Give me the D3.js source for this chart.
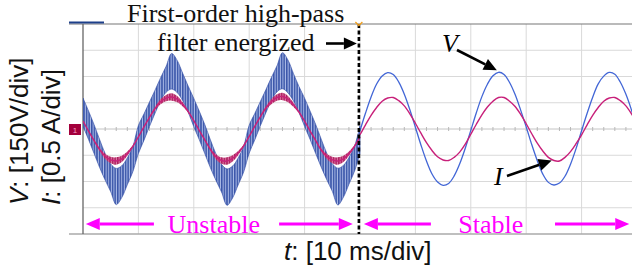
<!DOCTYPE html>
<html><head><meta charset="utf-8">
<script src="https://cdn.jsdelivr.net/npm/d3@7"></script>
<style>body{margin:0;background:#fff}svg{display:block}</style>
</head><body>
<svg id="chart" width="632" height="271"></svg>
<script>
// time in ms, V in volts, I in amps
let tUnstable=d3.range(0,51)
let tStable=d3.range(50,101)

// unstable V: upper / lower edge of the ripple band
let vHi=[177,103,25,-60,-140,-200,-225,-210,-165,-100,
20,86,154,222,292,358,432,392,318,244,
175,101,24,-62,-142,-202,-228,-212,-166,-98,
22,88,156,224,294,360,436,394,316,242,
176,102,26,-58,-138,-198,-224,-208,-163,-99,18]
let vLo=[15,-60,-140,-220,-292,-358,-432,-392,-318,-244,
-140,-65,15,90,160,210,228,208,162,95,
13,-62,-142,-222,-294,-360,-436,-394,-320,-246,
-138,-63,17,92,162,212,230,206,160,93,
15,-60,-140,-218,-290,-356,-434,-390,-316,-242,-140]

// unstable I and its ripple half-width
let iUnst=[.15,-.04,-.22,-.39,-.52,-.59,-.61,-.57,-.47,-.33,-.15,.04,.22,.39,.52,.59,.61,.57,.47,.33,
.16,-.03,-.21,-.39,-.53,-.60,-.61,-.56,-.46,-.32,-.14,.05,.23,.40,.52,.60,.62,.57,.46,.32,
.15,-.04,-.22,-.40,-.52,-.59,-.61,-.57,-.47,-.33,-.15]
let iRip=[.01,.01,.02,.03,.05,.06,.07,.06,.04,.02,.01,.01,.02,.03,.05,.06,.07,.06,.04,.02,
.01,.01,.02,.03,.05,.06,.07,.06,.04,.02,.01,.01,.02,.03,.05,.06,.07,.06,.04,.02,
.01,.01,.02,.03,.05,.06,.07,.06,.04,.02,.01]

// stable V and I
let vStable=[-10,91,183,257,303,322,311,268,199,110,10,-91,-183,-257,-303,-322,-311,-268,-199,-110,
-8,93,185,256,304,324,312,266,197,108,12,-89,-181,-258,-305,-320,-309,-270,-201,-112,
-10,90,182,258,302,323,313,267,198,109,9]
let iStable=[-.11,.08,.26,.41,.53,.59,.60,.54,.44,.29,.11,-.08,-.26,-.41,-.53,-.59,-.60,-.54,-.44,-.29,
-.10,.09,.27,.42,.53,.60,.60,.53,.43,.28,.10,-.09,-.27,-.42,-.54,-.60,-.61,-.54,-.43,-.28,
-.11,.08,.26,.41,.53,.59,.60,.54,.44,.29,.11]

let xGrid=[10,20,30,40,50,60,70,80,90]
let yGrid=[-450,-300,-150,150,300,450]
let minorTicks=d3.range(2,100,2)
let switchT=49.8

let svg=d3.select("#chart")
let pL=83,pR=632,pT=24,pB=234

let x=d3.scaleLinear().domain([0,100]).range([pL,pL+554])
let yV=d3.scaleLinear().domain([-600,600]).range([pB,pT])
let yI=d3.scaleLinear().domain([-2,2]).range([pB,pT])

let defs=svg.append("defs")
defs.append("clipPath").attr("id","plot").append("rect")
.attr("x",pL).attr("y",pT).attr("width",pR-pL).attr("height",pB-pT)

let pv=defs.append("pattern").attr("id","vrip").attr("patternUnits","userSpaceOnUse")
.attr("width",2.6).attr("height",4)
pv.append("rect").attr("width",2.6).attr("height",4).attr("fill","#aebde8")
pv.append("line").attr("x1",.8).attr("x2",.8).attr("y1",0).attr("y2",4)
.attr("stroke","#22409c").attr("stroke-width",1.3)

let pi=defs.append("pattern").attr("id","irip").attr("patternUnits","userSpaceOnUse")
.attr("width",2.6).attr("height",4)
pi.append("rect").attr("width",2.6).attr("height",4).attr("fill","#dc7aa8")
pi.append("line").attr("x1",.8).attr("x2",.8).attr("y1",0).attr("y2",4)
.attr("stroke","#a3104f").attr("stroke-width",1.3)

// grid
let grid=svg.append("g")
xGrid.forEach(t=>{
grid.append("line").attr("x1",x(t)).attr("x2",x(t)).attr("y1",pT).attr("y2",pB)
.attr("stroke","#d9d9d9").attr("stroke-width",1)
})
yGrid.forEach(v=>{
grid.append("line").attr("x1",pL).attr("x2",pR).attr("y1",yV(v)).attr("y2",yV(v))
.attr("stroke","#d9d9d9").attr("stroke-width",1)
})
grid.append("line").attr("x1",pL).attr("x2",pR).attr("y1",yV(0)).attr("y2",yV(0))
.attr("stroke","#c4c4c4").attr("stroke-width",1)
minorTicks.forEach(t=>{
grid.append("line").attr("x1",x(t)).attr("x2",x(t)).attr("y1",yV(0)-2).attr("y2",yV(0)+2)
.attr("stroke","#b8b8b8").attr("stroke-width",1)
})
grid.append("line").attr("x1",69).attr("x2",pR).attr("y1",pT).attr("y2",pT)
.attr("stroke","#777").attr("stroke-width",1.2)
grid.append("line").attr("x1",69).attr("x2",pR).attr("y1",pB).attr("y2",pB)
.attr("stroke","#aaa").attr("stroke-width",1.5)
grid.append("line").attr("x1",pL).attr("x2",pL).attr("y1",pT).attr("y2",pB)
.attr("stroke","#666").attr("stroke-width",1.3)

// legend stub + channel marker
svg.append("line").attr("x1",69).attr("x2",104).attr("y1",22.5).attr("y2",22.5)
.attr("stroke","#1d3f8a").attr("stroke-width",1.8)
svg.append("rect").attr("x",69).attr("y",yV(0)-5).attr("width",12).attr("height",11)
.attr("fill","#a3003c")
svg.append("text").attr("x",75).attr("y",yV(0)+4).attr("text-anchor","middle")
.attr("font-family","Liberation Sans, Arial").attr("font-size",8).attr("fill","#f3a0c0").text("1")

// traces
let wave=svg.append("g").attr("clip-path","url(#plot)")
let cr=d3.curveCatmullRom

wave.append("path").datum(tUnstable)
.attr("d",d3.area().x(t=>x(t)).y0((t,i)=>yV(vLo[i])).y1((t,i)=>yV(vHi[i])).curve(cr))
.attr("fill","url(#vrip)").attr("stroke","#2a47a3").attr("stroke-width",.6)

wave.append("path").datum(tUnstable)
.attr("d",d3.area().x(t=>x(t)).y0((t,i)=>yI(iUnst[i]-iRip[i])).y1((t,i)=>yI(iUnst[i]+iRip[i])).curve(cr))
.attr("fill","url(#irip)").attr("stroke","none")
wave.append("path").datum(tUnstable)
.attr("d",d3.line().x(t=>x(t)).y((t,i)=>yI(iUnst[i])).curve(cr))
.attr("fill","none").attr("stroke","#c8207a").attr("stroke-width",1.4)

wave.append("path").datum(tStable)
.attr("d",d3.line().x(t=>x(t)).y((t,i)=>yV(vStable[i])).curve(cr))
.attr("fill","none").attr("stroke","#4266d6").attr("stroke-width",1.3)
wave.append("path").datum(tStable)
.attr("d",d3.line().x(t=>x(t)).y((t,i)=>yI(iStable[i])).curve(cr))
.attr("fill","none").attr("stroke","#c8207a").attr("stroke-width",1.4)

// switching instant
svg.append("line").attr("x1",x(switchT)).attr("x2",x(switchT)).attr("y1",pT).attr("y2",pB)
.attr("stroke","#000").attr("stroke-width",2.6).attr("stroke-dasharray","4 2.5")
svg.append("path").attr("d",`M${x(switchT)-3.5},${pT-2}L${x(switchT)},${pT+1.5}L${x(switchT)+3.5},${pT-2}`)
.attr("fill","none").attr("stroke","#f0a020").attr("stroke-width",1.3)

function arrow(x1,y1,x2,y2,color,w,hl,hw){
let a=Math.atan2(y2-y1,x2-x1)
let bx=x2-hl*Math.cos(a),by=y2-hl*Math.sin(a)
let px=-Math.sin(a)*hw,py=Math.cos(a)*hw
svg.append("line").attr("x1",x1).attr("y1",y1).attr("x2",bx).attr("y2",by)
.attr("stroke",color).attr("stroke-width",w)
svg.append("polygon").attr("points",`${x2},${y2} ${bx+px},${by+py} ${bx-px},${by-py}`)
.attr("fill",color)
}

let serif="Liberation Serif, Times New Roman, serif"
let sans="Liberation Sans, Arial, sans-serif"

svg.append("text").attr("x",127).attr("y",22).attr("font-family",serif).attr("font-size",26)
.attr("fill","#111").text("First-order high-pass")
svg.append("text").attr("x",157).attr("y",51).attr("font-family",serif).attr("font-size",26)
.attr("fill","#111").text("filter energized")
arrow(326,43.5,x(switchT)-2,43.5,"#000",2.6,13,6)

svg.append("text").attr("x",442).attr("y",52).attr("font-family",serif).attr("font-size",26)
.attr("font-style","italic").text("V")
arrow(457,50,x(74.7),yV(336),"#000",2.6,13,6)
svg.append("text").attr("x",494).attr("y",185).attr("font-family",serif).attr("font-size",26)
.attr("font-style","italic").text("I")
arrow(507,176,x(84.6),yI(-.6),"#000",2.6,13,6)

// region arrows
let mag="#ff00ff"
let ya=224
arrow(x(12.8),ya,x(.5),ya,mag,3,14,6)
arrow(x(35.4),ya,x(48.7),ya,mag,3,14,6)
arrow(x(62.8),ya,x(50.7),ya,mag,3,14,6)
arrow(x(85.2),ya,x(98.6),ya,mag,3,14,6)
svg.append("text").attr("x",x(23.6)).attr("y",233).attr("text-anchor","middle")
.attr("font-family",serif).attr("font-size",26).attr("fill",mag).text("Unstable")
svg.append("text").attr("x",x(73.6)).attr("y",233).attr("text-anchor","middle")
.attr("font-family",serif).attr("font-size",26).attr("fill",mag).text("Stable")

// axis labels
let yl1=svg.append("text").attr("transform","translate(28,205) rotate(-90)")
.attr("font-family",sans).attr("font-size",26).attr("fill","#111")
yl1.append("tspan").attr("font-style","italic").text("V")
yl1.append("tspan").text(": [150V/div]")
let yl2=svg.append("text").attr("transform","translate(60,205) rotate(-90)")
.attr("font-family",sans).attr("font-size",26).attr("fill","#111")
yl2.append("tspan").attr("font-style","italic").text("I")
yl2.append("tspan").text(": [0.5 A/div]")
let xl=svg.append("text").attr("x",284).attr("y",260)
.attr("font-family",sans).attr("font-size",26).attr("fill","#111")
xl.append("tspan").attr("font-style","italic").text("t")
xl.append("tspan").text(": [10 ms/div]")
</script>
</body></html>
